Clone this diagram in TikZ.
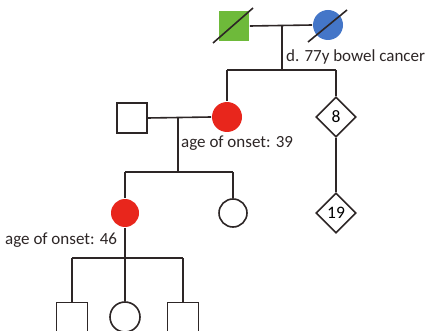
\documentclass[tikz,border=0pt]{standalone}
\usepackage{fontspec}
\setmainfont{Carlito}
\usetikzlibrary{shapes.geometric}
\definecolor{lnc}{RGB}{45,38,38}
\definecolor{pgreen}{RGB}{110,186,58}
\definecolor{pblue}{RGB}{68,118,200}
\definecolor{pred}{RGB}{232,38,28}
\begin{document}
\begin{tikzpicture}[x=1pt,y=-1pt,
  male/.style={draw=lnc,line width=1.6pt,rectangle,minimum size=30pt,inner sep=0pt},
  female/.style={draw=lnc,line width=1.6pt,circle,minimum size=30pt,inner sep=0pt},
  unk/.style={draw=lnc,line width=1.6pt,diamond,minimum width=40pt,minimum height=40pt,inner sep=0pt,font=\fontsize{17.5}{18}\selectfont},
  lbl/.style={font=\fontsize{17}{18}\selectfont,text=lnc,inner sep=0pt,anchor=west},
  conn/.style={line width=1.6pt,draw=lnc}]
\useasboundingbox (0,0) rectangle (425,331);
\fill[white] (0,0) rectangle (425,331);
% generation I
\node[male,fill=pgreen,draw=none] (gf) at (234,26) {};
\node[female,fill=pblue,draw=none] (gm) at (328,25) {};
\coordinate (gfa) at (213,43); \coordinate (gfb) at (253,8);
\coordinate (gma) at (308,42); \coordinate (gmb) at (347,10);
\draw[conn] (gfa) -- (gfb);
\draw[conn] (gma) -- (gmb);
\coordinate (m1) at (282,25);
\draw[conn] (gf.east) -- (gm.west);
\coordinate (s1) at (282,70);
\coordinate (s1l) at (227,70); \coordinate (s1r) at (336,70);
\draw[conn] (m1) -- (s1);
\draw[conn] (s1l) -- (s1r);
\node[lbl] (t1) at (286,57) {d. 77y bowel cancer};
% generation II
\node[male] (f2) at (132,118) {};
\node[female,fill=pred,draw=none] (m2) at (227,117) {};
\node[unk] (d8) at (336,117) {8};
\node[unk] (d19) at (336,213) {19};
\draw[conn] (s1l) -- (m2.north);
\draw[conn] (s1r) -- (d8.north);
\draw[conn] (d8.south) -- (d19.north);
\draw[conn] (f2.east) -- (m2.west);
\coordinate (m2a) at (178,118);
\coordinate (s2) at (178,172);
\coordinate (s2l) at (125,172); \coordinate (s2r) at (233,172);
\draw[conn] (m2a) -- (s2);
\draw[conn] (s2l) -- (s2r);
\node[lbl] (t2) at (181,143) {age of onset: 39};
% generation III
\node[female,fill=pred,draw=none,minimum size=28pt] (c1) at (125,213) {};
\node[female,minimum size=28pt] (c2) at (233,213) {};
\draw[conn] (s2l) -- (c1.north);
\draw[conn] (s2r) -- (c2.north);
\node[lbl] (t3) at (5,240) {age of onset: 46};
\coordinate (s3) at (125,258);
\coordinate (s3l) at (72,258); \coordinate (s3r) at (183,258);
\draw[conn] (c1.south) -- (s3);
\draw[conn] (s3l) -- (s3r);
% generation IV
\node[male,minimum size=31pt] (g1) at (72,318) {};
\node[female] (g2) at (125,317) {};
\node[male,minimum size=31pt] (g3) at (183,318) {};
\draw[conn] (s3l) -- (g1.north);
\draw[conn] (s3) -- (g2.north);
\draw[conn] (s3r) -- (g3.north);
\end{tikzpicture}
\end{document}
